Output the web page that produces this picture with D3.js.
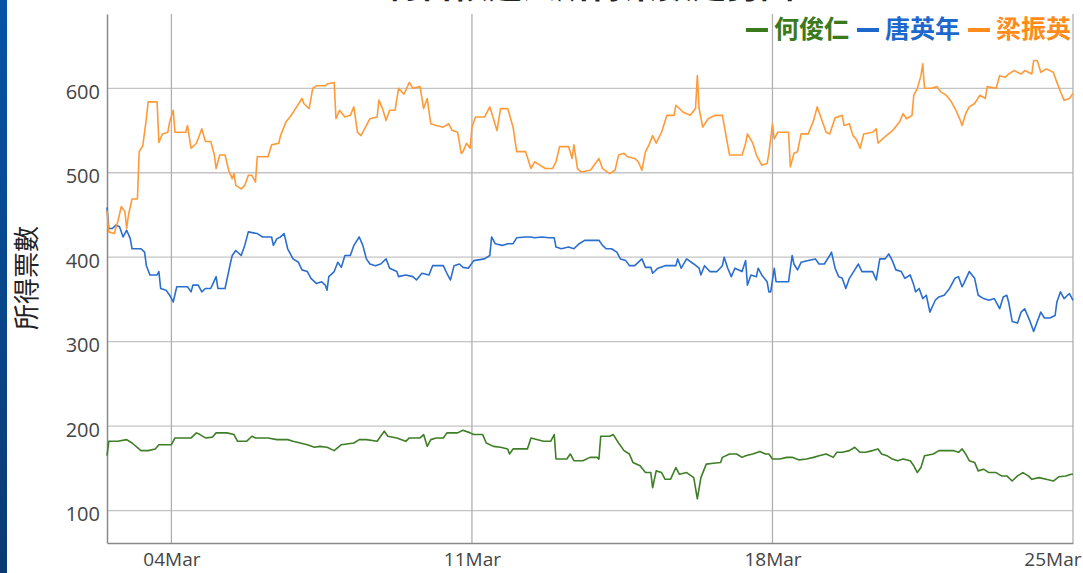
<!DOCTYPE html>
<html>
<head>
<meta charset="utf-8">
<script src="https://cdn.jsdelivr.net/npm/d3@7"></script>
<style>
  body { margin: 0; background: #fff; }
  svg { display: block; }
</style>
</head>
<body>
<div id="chart"></div>
<script>
// candidates and colours
var candidates = ["何俊仁", "唐英年", "梁振英"];
var lineColors = ["#3e7e26", "#2a6ed0", "#ff9a38"];
var legendColors = ["#3a7a1c", "#1c68cc", "#ff8c1a"];

// hours since 2 Mar 2012 12:00, and votes, per candidate
var hoHours = [0,1,6,11,14,19,23,27,29,36,38,47,50,52,55,59,61,67,71,73,78,81,83,90,95,101,104,108,112,116,119,123,127,131,138,141,145,151,155,157,162,167,169,175,177,179,181,184,188,190,196,199,203,205,210,212,216,220,224,225,227,235,237,244,248,250,251,257,259,261,266,270,274,275,276,281,283,286,289,292,294,298,301,304,305,307,310,312,315,318,320,324,328,330,332,335,339,343,344,348,352,355,357,361,365,368,370,372,376,380,383,387,391,395,398,402,406,408,411,415,418,421,424,428,431,433,436,439,442,445,449,451,453,455,457,462,465,469,473,476,478,480,482,485,487,490,493,497,500,503,506,509,512,515,517,521,525,529,532,536,539,540];
var hoVotes = [165,182,182,184,180,171,171,173,178,178,186,186,192,190,186,187,192,192,190,182,182,188,186,186,184,184,182,180,178,175,176,175,171,178,180,184,184,182,194,188,186,182,186,186,190,176,184,186,186,192,192,195,192,190,190,180,176,175,173,167,173,173,186,182,182,190,161,161,167,159,159,163,163,161,188,188,190,180,171,167,157,153,145,145,127,147,145,137,137,151,143,145,139,114,139,155,156,157,163,167,167,163,165,167,170,167,167,161,161,163,163,160,161,163,165,167,163,169,169,171,175,169,169,171,173,167,165,161,159,161,159,153,145,151,165,167,171,171,171,169,173,167,159,157,147,149,145,145,141,141,135,141,145,141,137,139,137,135,140,141,143,143];

var tongHours = [0,1,3,5,7,9,11,13,14,19,21,22,24,28,29,30,33,35,37,39,45,47,48,51,53,55,58,61,62,66,69,70,72,75,77,79,84,87,92,93,95,97,99,101,104,107,109,112,114,117,120,122,123,124,127,129,131,133,136,138,141,143,145,147,150,153,156,158,162,163,167,171,173,176,180,182,188,190,192,194,197,199,202,205,211,214,215,217,221,224,227,229,234,237,239,243,247,250,251,254,258,261,264,267,271,275,277,279,282,285,287,290,292,295,299,301,304,305,308,312,318,319,321,324,328,331,332,334,337,341,344,345,347,349,351,355,357,358,360,363,364,366,369,370,371,373,374,381,383,384,386,388,392,396,398,401,404,405,407,409,411,413,415,418,420,422,428,430,432,435,437,439,441,444,446,449,451,452,454,456,458,460,463,465,468,471,474,476,478,479,482,485,487,490,493,496,499,501,503,504,506,509,511,513,516,518,519,522,524,527,530,531,533,535,538,540];
var tongVotes = [459,434,434,438,436,424,432,422,410,410,406,390,379,379,383,363,361,355,347,365,365,359,367,367,359,363,363,377,363,363,393,402,408,402,414,430,428,424,424,414,422,424,428,410,398,394,385,383,375,369,371,367,361,377,383,394,388,402,402,414,424,414,398,392,390,392,398,387,383,377,379,377,373,381,379,390,390,381,373,390,392,388,387,396,398,402,424,416,414,416,416,423,424,424,423,424,423,423,412,410,412,410,416,420,420,420,414,410,410,406,398,396,390,390,398,388,388,381,387,390,390,398,387,398,392,387,379,390,383,383,390,400,387,377,387,383,396,367,379,377,387,379,371,359,359,387,371,371,402,392,385,394,396,398,392,392,402,406,387,377,375,363,375,385,392,383,383,373,398,398,404,396,385,383,375,379,367,359,363,351,355,335,349,353,355,363,375,377,365,369,383,375,355,351,349,351,339,353,355,347,324,322,335,339,324,312,318,335,328,328,331,347,359,351,357,349];

var leungHours = [0,1,4,6,8,10,11,12,14,17,18,20,22,23,28,29,31,34,35,37,38,44,45,47,50,53,55,58,60,61,63,66,68,70,71,72,75,77,79,81,83,84,90,92,96,97,100,103,106,109,110,113,115,117,122,123,127,128,130,133,136,138,140,142,145,147,151,152,154,156,158,161,163,166,169,171,175,177,179,181,184,188,191,193,196,198,199,201,203,204,206,211,214,216,218,220,224,227,229,234,237,239,242,245,249,251,253,258,260,261,263,265,270,271,275,277,281,284,286,289,291,295,297,299,301,303,305,307,310,313,317,318,322,326,329,330,331,333,336,340,344,345,348,355,357,358,361,363,366,369,370,372,373,375,381,382,384,386,388,392,395,397,399,402,404,407,411,412,415,417,419,421,423,428,430,431,434,438,440,443,445,447,450,451,453,455,456,457,461,464,466,469,472,475,477,478,480,482,485,488,491,492,497,499,502,504,507,511,513,517,518,520,522,525,529,531,533,535,538,540];
var leungVotes = [455,430,428,442,460,454,434,450,469,469,525,532,564,584,584,536,546,548,560,574,548,548,556,529,535,552,537,537,521,505,521,521,503,493,499,485,481,485,497,497,489,519,519,533,535,544,560,568,578,588,582,576,600,603,603,605,607,564,574,566,568,578,548,544,556,564,566,586,576,562,574,574,600,593,607,600,602,576,588,558,556,554,558,550,548,523,525,535,529,554,566,566,578,564,550,576,576,554,525,525,505,513,509,505,505,513,531,531,517,533,505,501,503,505,517,505,499,503,521,523,519,517,513,503,525,533,544,535,548,568,568,580,572,568,576,615,576,554,564,568,568,556,521,521,535,546,535,521,509,511,523,558,540,548,548,507,523,525,546,546,562,578,566,548,546,565,568,556,558,544,539,529,546,548,552,535,541,548,552,560,570,564,568,592,600,615,629,600,600,602,596,592,584,572,562,556,570,578,582,592,588,602,600,615,613,617,621,617,621,617,633,633,619,623,619,607,596,586,588,594];

var yTicks = [100, 200, 300, 400, 500, 600];
var xTickDates = ["2012-03-04", "2012-03-11", "2012-03-18", "2012-03-25"];
var startTime = new Date(2012, 2, 2, 12);
var endTime = new Date(2012, 2, 25, 0);

var W = 1083, H = 573;
var plot = {left: 107, right: 1073, top: 14, bottom: 543};

var svg = d3.select("#chart").append("svg")
    .attr("width", W)
    .attr("height", H);

// left blue strip
var grad = svg.append("defs").append("linearGradient")
    .attr("id", "strip").attr("x1", 0).attr("y1", 0).attr("x2", 0).attr("y2", 1);
grad.append("stop").attr("offset", "0%").attr("stop-color", "#0554a6");
grad.append("stop").attr("offset", "100%").attr("stop-color", "#0b3a72");
svg.append("rect").attr("x", 0).attr("y", 0).attr("width", 7).attr("height", H)
    .attr("fill", "url(#strip)");

var x = d3.scaleTime()
    .domain([startTime, endTime])
    .range([plot.left, plot.right]);

var y = d3.scaleLinear()
    .domain([61.6, 688])
    .range([plot.bottom, plot.top]);

var parseDay = d3.timeParse("%Y-%m-%d");
var tickDates = xTickDates.map(parseDay);

// horizontal grid
svg.append("g").selectAll("line")
    .data(yTicks).enter().append("line")
    .attr("x1", plot.left).attr("x2", plot.right)
    .attr("y1", function (d) { return y(d); })
    .attr("y2", function (d) { return y(d); })
    .attr("stroke", "#c4c4c4").attr("stroke-width", 1.3);

// vertical grid
svg.append("g").selectAll("line")
    .data(tickDates).enter().append("line")
    .attr("x1", function (d) { return x(d); })
    .attr("x2", function (d) { return x(d); })
    .attr("y1", plot.top).attr("y2", plot.bottom)
    .attr("stroke", "#b0b0b0").attr("stroke-width", 1.3);

// axes
var yAxis = svg.append("g")
    .attr("transform", "translate(" + plot.left + ",0)")
    .call(d3.axisLeft(y).tickValues(yTicks).tickSize(0).tickPadding(7));
yAxis.select(".domain").attr("stroke", "#8a8a8a").attr("stroke-width", 1.5);
yAxis.selectAll("text")
    .attr("dy", "0.5em")
    .style("font-family", "'Open Sans', sans-serif")
    .style("font-size", "20px")
    .style("fill", "#454545");

var xAxis = svg.append("g")
    .attr("transform", "translate(0," + plot.bottom + ")")
    .call(d3.axisBottom(x).tickValues(tickDates).tickSize(0).tickPadding(10)
        .tickFormat(d3.timeFormat("%d%b")));
xAxis.select(".domain").attr("stroke", "#8a8a8a").attr("stroke-width", 1.5);
xAxis.selectAll("text")
    .attr("dy", "0.71em")
    .style("font-family", "'Open Sans', sans-serif")
    .style("font-size", "19px")
    .style("fill", "#454545");
// last label kept inside the picture
xAxis.selectAll(".tick").filter(function (d, i) { return i === tickDates.length - 1; })
    .select("text")
    .attr("text-anchor", "end")
    .attr("x", W - 2 - x(tickDates[tickDates.length - 1]));

// lines
var series = [
    {hours: hoHours, votes: hoVotes},
    {hours: tongHours, votes: tongVotes},
    {hours: leungHours, votes: leungVotes}
];

var line = d3.line()
    .x(function (d) { return x(d.t); })
    .y(function (d) { return y(d.v); });

series.forEach(function (s, i) {
    var pts = s.hours.map(function (h, j) {
        return {t: d3.timeHour.offset(startTime, h), v: s.votes[j]};
    });
    svg.append("path")
        .datum(pts)
        .attr("fill", "none")
        .attr("stroke", lineColors[i])
        .attr("stroke-width", 1.6)
        .attr("stroke-linejoin", "round")
        .attr("d", line);
});

// title (mostly cut off at the top)
svg.append("text")
    .attr("x", (plot.left + plot.right) / 2)
    .attr("y", -2)
    .attr("text-anchor", "middle")
    .style("font-family", "'Noto Sans CJK TC', sans-serif")
    .style("font-size", "34px")
    .style("font-weight", "bold")
    .style("fill", "#222")
    .text("特首候選人所得票數走勢圖");

// y axis title
svg.append("text")
    .attr("transform", "translate(36,278) rotate(-90)")
    .attr("text-anchor", "middle")
    .style("font-family", "'Noto Sans CJK TC', sans-serif")
    .style("font-size", "26px")
    .style("fill", "#222")
    .text("所得票數");

// legend, right aligned
var legend = svg.append("g");
var lx = 1071;
for (var i = candidates.length - 1; i >= 0; i--) {
    var t = legend.append("text")
        .attr("y", 38)
        .attr("text-anchor", "end")
        .attr("x", lx)
        .style("font-family", "'Noto Sans CJK TC', sans-serif")
        .style("font-size", "25px")
        .style("font-weight", "bold")
        .style("fill", legendColors[i])
        .text(candidates[i]);
    var tw = t.node().getComputedTextLength();
    legend.append("rect")
        .attr("x", lx - tw - 6 - 22)
        .attr("y", 28)
        .attr("width", 22)
        .attr("height", 4)
        .attr("fill", legendColors[i]);
    lx = lx - tw - 6 - 22 - 8;
}
</script>
</body>
</html>
